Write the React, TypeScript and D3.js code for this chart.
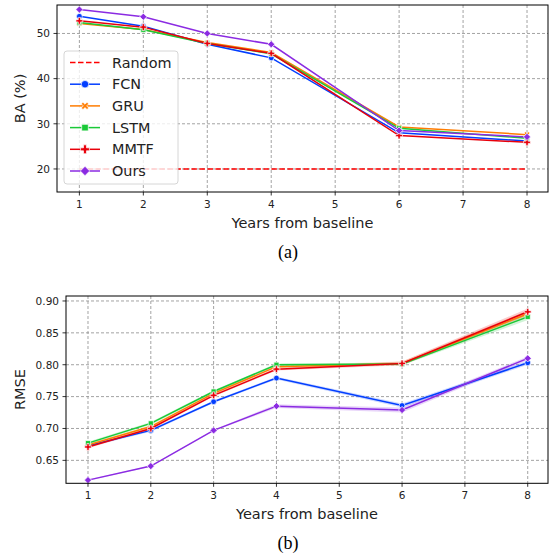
import React from "react";
import * as d3 from "d3";

// ---- data ----
const years = [1, 2, 3, 4, 6, 8];
const xTicks = [1, 2, 3, 4, 5, 6, 7, 8];

const models = ["FCN", "GRU", "LSTM", "MMTF", "Ours"];
const colors = ["#023eff", "#ff7c00", "#1ac938", "#e8000b", "#8b2be2"];
const markers = ["circle", "x", "square", "plus", "diamond"];

const baFCN = [53.8, 51.6, 47.6, 44.6, 28.0, 26.2];
const baGRU = [52.2, 50.9, 48.0, 45.8, 29.3, 27.6];
const baLSTM = [52.4, 50.8, 47.8, 45.5, 29.0, 26.8];
const baMMTF = [52.8, 51.4, 47.8, 45.6, 27.4, 25.9];
const baOurs = [55.3, 53.7, 50.0, 47.6, 28.5, 27.1];
const baRandom = 20;
const baTicks = [20, 30, 40, 50];

const rmseFCN = [0.673, 0.697, 0.742, 0.779, 0.736, 0.803];
const rmseGRU = [0.674, 0.703, 0.755, 0.797, 0.802, 0.880];
const rmseLSTM = [0.677, 0.708, 0.758, 0.800, 0.801, 0.875];
const rmseMMTF = [0.671, 0.700, 0.752, 0.793, 0.802, 0.883];
const rmseOurs = [0.619, 0.641, 0.697, 0.735, 0.729, 0.810];
// half width of the shaded bands
const ciFCN = [0.002, 0.002, 0.002, 0.002, 0.003, 0.003];
const ciGRU = [0.002, 0.002, 0.002, 0.002, 0.003, 0.005];
const ciLSTM = [0.002, 0.002, 0.002, 0.002, 0.002, 0.005];
const ciMMTF = [0.002, 0.002, 0.002, 0.002, 0.003, 0.005];
const ciOurs = [0.001, 0.001, 0.001, 0.003, 0.004, 0.003];
const rmseTicks = [0.65, 0.7, 0.75, 0.8, 0.85, 0.9];

const baSeries = [baFCN, baGRU, baLSTM, baMMTF, baOurs];
const rmseSeries = [rmseFCN, rmseGRU, rmseLSTM, rmseMMTF, rmseOurs];
const ciSeries = [ciFCN, ciGRU, ciLSTM, ciMMTF, ciOurs];

const W = 549;
const H = 554;
const sans = "DejaVu Sans, sans-serif";

// thick filled "X" like matplotlib's 'X' marker
const xPath = (r: number) => {
  const a = r * 0.45;
  const pts = [
    [0, -a], [r - a, -r], [r, -r + a], [a, 0], [r, r - a], [r - a, r],
    [0, a], [-r + a, r], [-r, r - a], [-a, 0], [-r, -r + a], [-r + a, -r],
  ];
  return "M" + pts.map((p) => p.join(",")).join("L") + "Z";
};

const Marker = ({ kind, x, y, color, size }: any) => {
  let path = "";
  let rot = 0;
  if (kind === "x") path = xPath(Math.sqrt(size) * 0.55);
  else {
    let type: any = d3.symbolCircle;
    if (kind === "square") type = d3.symbolSquare;
    if (kind === "plus") type = d3.symbolCross;
    if (kind === "diamond") { type = d3.symbolSquare; rot = 45; }
    path = d3.symbol().type(type).size(size)() as string;
  }
  return (
    <path
      d={path}
      transform={`translate(${x},${y}) rotate(${rot})`}
      fill={color}
      stroke="#fff"
      strokeWidth={0.7}
    />
  );
};

const Panel = ({ x, y, yTicks, yFmt, yLabel, series, bands, left, top, bottom, caption, captionY, legend }: any) => {
  const right = 548;
  const plotW = right - left;
  return (
    <g>
      {/* grid */}
      {xTicks.map((t) => (
        <line key={"gx" + t} x1={x(t)} x2={x(t)} y1={top} y2={bottom}
          stroke="#8c8c8c" strokeWidth={0.8} strokeDasharray="3,2" />
      ))}
      {yTicks.map((t: number) => (
        <line key={"gy" + t} x1={left} x2={right} y1={y(t)} y2={y(t)}
          stroke="#8c8c8c" strokeWidth={0.8} strokeDasharray="3,2" />
      ))}
      {/* bands */}
      {bands &&
        series.map((s: number[], i: number) => {
          const area = d3.area<number>()
            .x((_, j) => x(years[j]))
            .y0((d, j) => y(d - bands[i][j]))
            .y1((d, j) => y(d + bands[i][j]));
          return <path key={"b" + i} d={area(s) as string} fill={colors[i]} opacity={0.2} />;
        })}
      {legend && (
        <line x1={x(1)} x2={x(8)} y1={y(baRandom)} y2={y(baRandom)}
          stroke="#ff0000" strokeWidth={1.5} strokeDasharray="5.5,2.5" />
      )}
      {/* lines */}
      {series.map((s: number[], i: number) => {
        const line = d3.line<number>().x((_, j) => x(years[j])).y((d) => y(d));
        return (
          <g key={"l" + i}>
            <path d={line(s) as string} fill="none" stroke={colors[i]} strokeWidth={1.5} />
            {s.map((d, j) => (
              <Marker key={j} kind={markers[i]} x={x(years[j])} y={y(d)} color={colors[i]} size={26} />
            ))}
          </g>
        );
      })}
      {/* frame */}
      <rect x={left} y={top} width={plotW} height={bottom - top} fill="none" stroke="#000" strokeWidth={1} />
      {/* ticks */}
      {xTicks.map((t) => (
        <g key={"tx" + t}>
          <line x1={x(t)} x2={x(t)} y1={bottom} y2={bottom + 3.5} stroke="#000" strokeWidth={0.8} />
          <text x={x(t)} y={bottom + 15.5} textAnchor="middle" fontSize={10.5} fontFamily={sans} fill="#222">{t}</text>
        </g>
      ))}
      {yTicks.map((t: number) => (
        <g key={"ty" + t}>
          <line x1={left - 3.5} x2={left} y1={y(t)} y2={y(t)} stroke="#000" strokeWidth={0.8} />
          <text x={left - 7} y={y(t)} dy="0.36em" textAnchor="end" fontSize={10.5} fontFamily={sans} fill="#222">{yFmt(t)}</text>
        </g>
      ))}
      <text x={(left + right) / 2} y={bottom + 36} textAnchor="middle" fontSize={14.5} fontFamily={sans} fill="#222">
        Years from baseline
      </text>
      <text transform={`translate(20,${(top + bottom) / 2}) rotate(-90)`} dy="0.36em" textAnchor="middle"
        fontSize={14.5} fontFamily={sans} fill="#222">
        {yLabel}
      </text>
      <text x={288} y={captionY} textAnchor="middle" fontSize={18} fontFamily="Liberation Serif, Times New Roman, serif" fill="#000">
        {caption}
      </text>
      {legend && (
        <g>
          <rect x={64} y={51} width={114} height={133} rx={3} fill="#fff" fillOpacity={0.8} stroke="#ccc" strokeWidth={0.8} />
          {["Random", ...models].map((name, i) => {
            const ly = 62.5 + i * 21.7;
            return (
              <g key={name}>
                {i === 0 ? (
                  <line x1={70} x2={100} y1={ly} y2={ly} stroke="#ff0000" strokeWidth={1.5} strokeDasharray="5.5,2.5" />
                ) : (
                  <>
                    <line x1={70} x2={100} y1={ly} y2={ly} stroke={colors[i - 1]} strokeWidth={1.5} />
                    <Marker kind={markers[i - 1]} x={85} y={ly} color={colors[i - 1]} size={44} />
                  </>
                )}
                <text x={112} y={ly} dy="0.36em" fontSize={14.4} fontFamily={sans} fill="#222">{name}</text>
              </g>
            );
          })}
        </g>
      )}
    </g>
  );
};

export default function App() {
  const xTop = d3.scaleLinear().domain([0.65, 8.35]).range([57, 549.4]);
  const yTop = d3.scaleLinear().domain([14.9, 56.3]).range([192, 5]);
  const xBot = d3.scaleLinear().domain([0.65, 8.35]).range([66, 549.7]);
  const yBot = d3.scaleLinear().domain([0.614, 0.9078]).range([483.3, 296]);

  return (
    <svg width={W} height={H} viewBox={`0 0 ${W} ${H}`}
      style={{ position: "absolute", left: 0, top: 0, background: "#fff", display: "block" }}>
      <Panel x={xTop} y={yTop} yTicks={baTicks} yFmt={(d: number) => String(d)} yLabel="BA (%)"
        series={baSeries} bands={null} left={57} top={5} bottom={192}
        caption="(a)" captionY={258} legend />
      <Panel x={xBot} y={yBot} yTicks={rmseTicks} yFmt={d3.format(".2f")} yLabel="RMSE"
        series={rmseSeries} bands={ciSeries} left={66} top={296} bottom={483.3}
        caption="(b)" captionY={549} legend={false} />
    </svg>
  );
}
